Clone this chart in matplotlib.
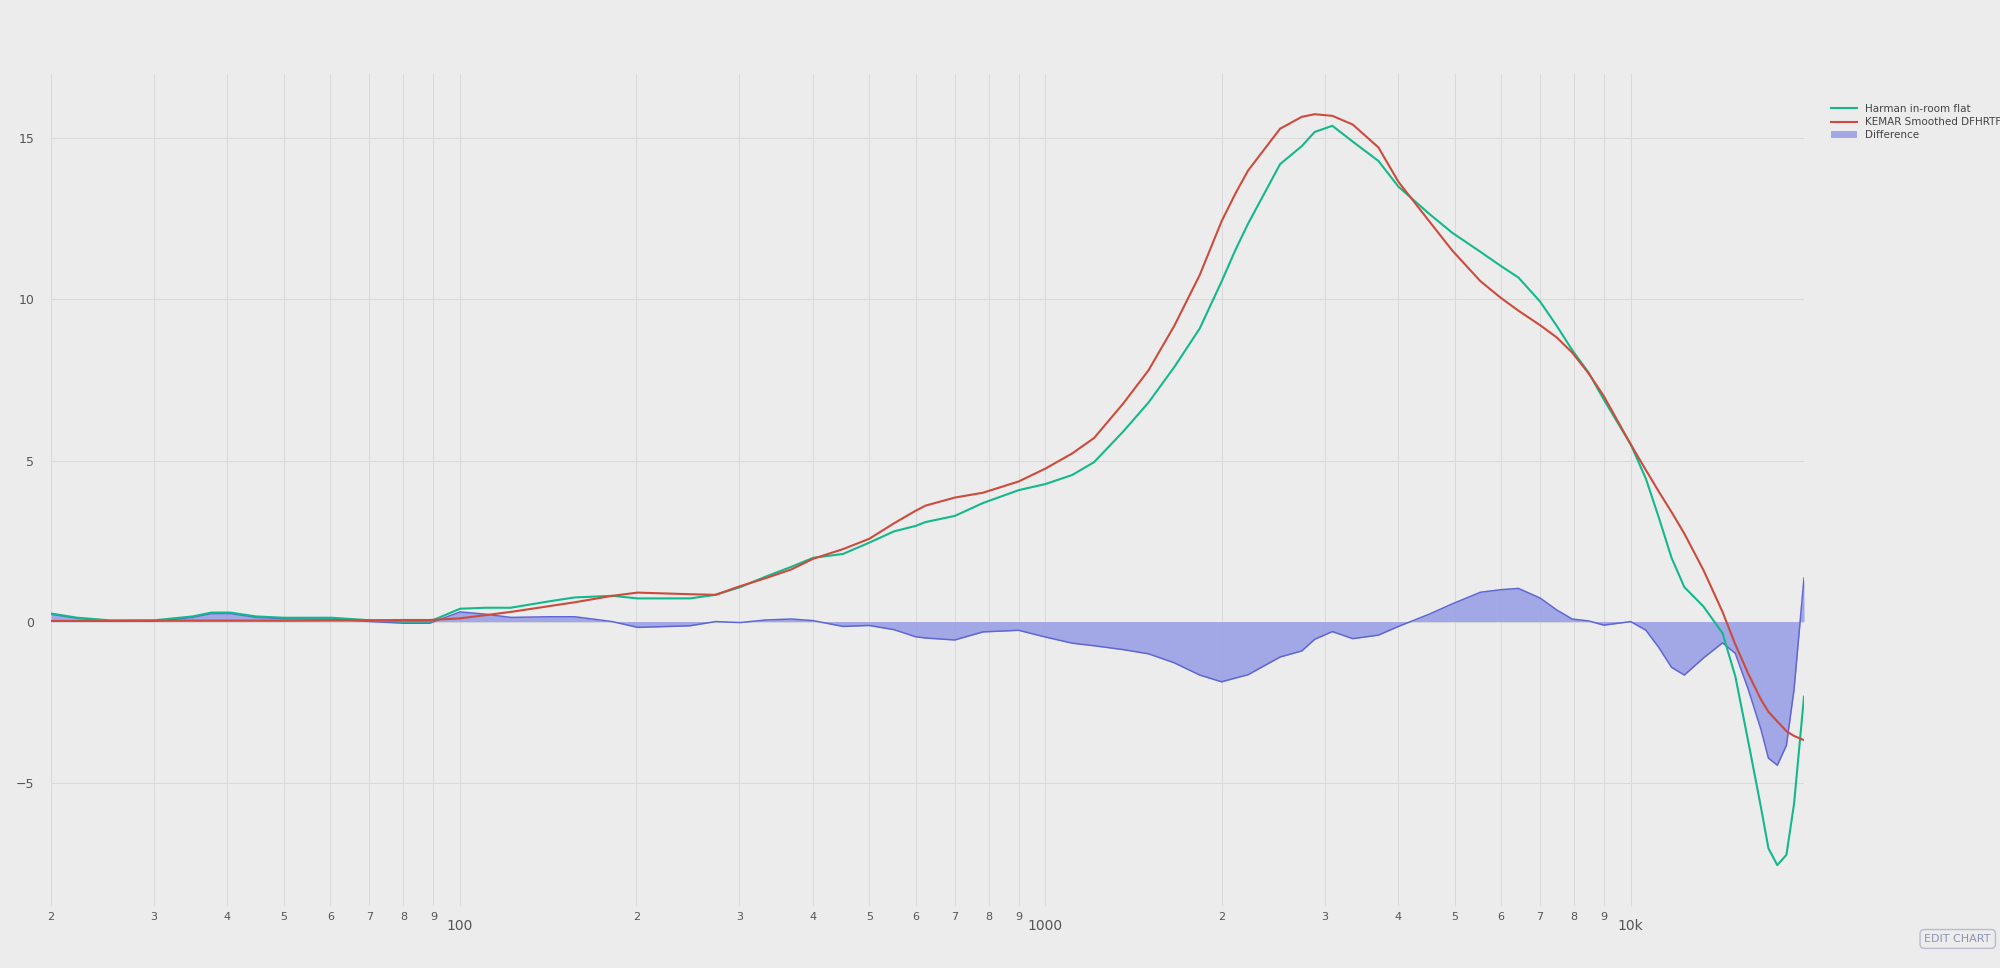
import matplotlib.pyplot as plt
import matplotlib.ticker as mticker
import numpy as np

# frequency points (Hz) shared by both curves
freqs = [20, 22.2, 25.2, 30, 34.9, 37.6, 40.5, 44.8, 50, 60.3, 70.4, 80.2, 88.7,
         100, 110.5, 122, 142, 157, 182, 201, 247, 273, 301, 333, 368, 401, 451,
         500, 551, 600, 624, 700, 782, 900, 1000, 1111, 1211, 1358, 1500, 1660,
         1835, 2000, 2113, 2219, 2517, 2742, 2884, 3092, 3350, 3706, 4010, 4525,
         4955, 5534, 5998, 6430, 7003, 7475, 7943, 8478, 8995, 10000, 10617,
         11163, 11741, 12348, 13310, 14350, 15090, 15860, 16680, 17190, 17800,
         18450, 19010, 19770]

harman = [0.25, 0.12, 0.04, 0.04, 0.16, 0.28, 0.28, 0.16, 0.12, 0.12, 0.04, 0.0,
          0.0, 0.4, 0.43, 0.43, 0.63, 0.75, 0.8, 0.72, 0.72, 0.83, 1.07, 1.4, 1.7,
          1.98, 2.1, 2.45, 2.8, 2.97, 3.09, 3.28, 3.68, 4.08, 4.27, 4.55, 4.95,
          5.9, 6.8, 7.9, 9.1, 10.56, 11.55, 12.35, 14.2, 14.76, 15.2, 15.39, 14.9,
          14.3, 13.5, 12.66, 12.07, 11.48, 11.04, 10.68, 9.93, 9.18, 8.43, 7.72,
          6.89, 5.5, 4.43, 3.24, 1.98, 1.07, 0.47, -0.36, -1.7, -3.68, -5.74,
          -7.04, -7.56, -7.24, -5.66, -2.33]

kemar = [0.02, 0.02, 0.02, 0.03, 0.03, 0.03, 0.03, 0.03, 0.03, 0.04, 0.04, 0.05,
         0.05, 0.1, 0.2, 0.3, 0.48, 0.6, 0.8, 0.9, 0.85, 0.83, 1.1, 1.35, 1.62,
         1.95, 2.25, 2.57, 3.05, 3.44, 3.6, 3.85, 4.0, 4.35, 4.75, 5.22, 5.7,
         6.77, 7.8, 9.18, 10.76, 12.43, 13.3, 14.0, 15.3, 15.67, 15.75, 15.7,
         15.43, 14.72, 13.65, 12.43, 11.52, 10.57, 10.05, 9.65, 9.2, 8.82, 8.35,
         7.7, 7.0, 5.5, 4.7, 4.04, 3.4, 2.73, 1.6, 0.3, -0.71, -1.6, -2.41, -2.8,
         -3.1, -3.4, -3.55, -3.68]

difference = np.array(harman) - np.array(kemar)

bg = '#ececec'
fig = plt.figure(figsize=(20, 9.68), dpi=100, facecolor=bg)
ax = fig.add_axes([0.0255, 0.064, 0.8765, 0.8596], facecolor=bg)

ax.fill_between(freqs, difference, 0, color='#9aa0e6', alpha=0.9, lw=0,
                label='Difference')
ax.plot(freqs, difference, color='#5f66d4', lw=1.1)
ax.plot(freqs, harman, color='#14b88a', lw=1.5, label='Harman in-room flat')
ax.plot(freqs, kemar, color='#cc4b3c', lw=1.5, label='KEMAR Smoothed DFHRTF')

ax.set_xscale('log')
ax.set_xlim(20, 19770)
ax.set_ylim(-8.83, 17.0)

major = [100, 1000, 10000]
minor = [m * 10 ** e for e in range(1, 4) for m in range(2, 10)
         if 20 <= m * 10 ** e <= 19770]
ax.xaxis.set_major_locator(mticker.FixedLocator(major))
ax.xaxis.set_major_formatter(mticker.FixedFormatter(['100', '1000', '10k']))
ax.xaxis.set_minor_locator(mticker.FixedLocator(minor))
ax.xaxis.set_minor_formatter(mticker.FixedFormatter(
    [str(int(f / 10 ** int(np.log10(f)))) for f in minor]))
ax.tick_params(axis='x', which='major', length=0, pad=9, labelsize=10, labelcolor='#555555')
ax.tick_params(axis='x', which='minor', length=0, pad=4, labelsize=8, labelcolor='#555555')
ax.set_yticks([-5, 0, 5, 10, 15])
ax.set_yticklabels(['−5', '0', '5', '10', '15'])
ax.tick_params(axis='y', length=0, pad=12, labelsize=9, labelcolor='#555555')
ax.grid(True, which='both', color='#dadada', lw=0.8)
ax.set_axisbelow(True)
for s in ax.spines.values():
    s.set_visible(False)

h, l = ax.get_legend_handles_labels()
order = [1, 2, 0]
ax.legend([h[i] for i in order], [l[i] for i in order], loc='upper left',
          bbox_to_anchor=(1.01, 0.975), frameon=False, fontsize=7.5,
          handlelength=2.5, labelspacing=0.3, labelcolor='#444444')

fig.text(0.9955, 0.03, 'EDIT CHART', ha='right', va='center', fontsize=8,
         color='#8a93b5', bbox=dict(boxstyle='round,pad=0.4', fc=bg, ec='#b8bccc'))

fig.savefig('out.png', facecolor=bg)
